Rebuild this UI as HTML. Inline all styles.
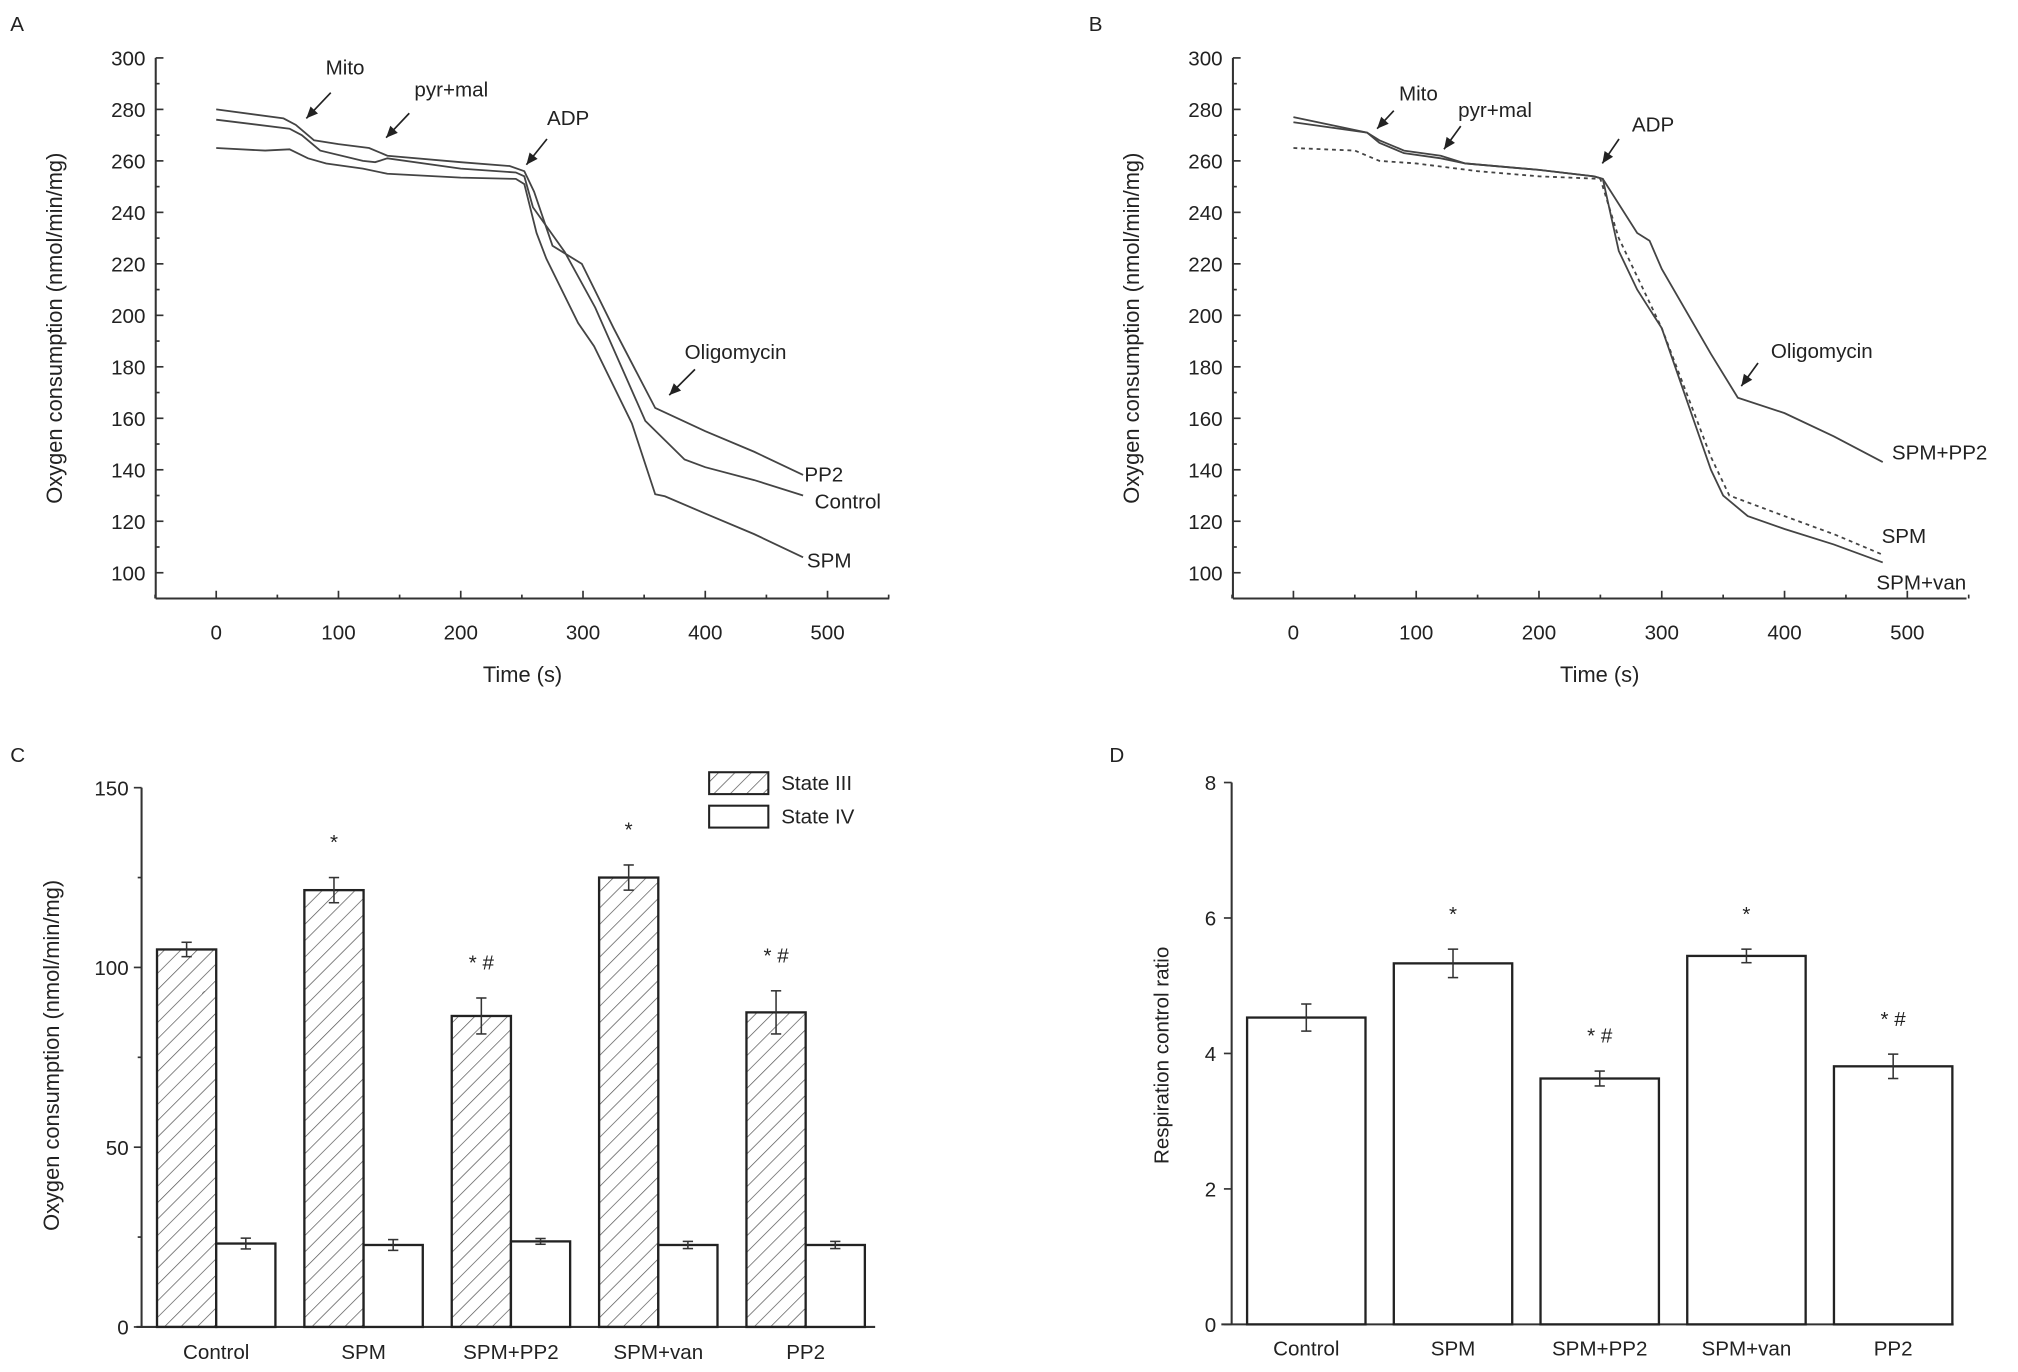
<!DOCTYPE html>
<html><head><meta charset="utf-8"><style>
html,body{margin:0;padding:0;background:#fff;}
svg{display:block;font-family:"Liberation Sans",Arial,sans-serif;}
</style></head><body>
<svg id="fig" width="2018" height="1372" viewBox="0 0 1568 1066" preserveAspectRatio="none" xmlns="http://www.w3.org/2000/svg">
<defs>
<pattern id="hatch" patternUnits="userSpaceOnUse" width="9" height="9" patternTransform="rotate(-45) translate(0,0)">
<line x1="0" y1="0" x2="0" y2="9" stroke="#555" stroke-width="1.1" transform="rotate(90 4.5 4.5)"/>
</pattern>
</defs>
<g id="root"></g>
</svg>
<script>
// ===== Panel A data =====
const aTimePP2 = [0,55,65,80,100,125,140,200,240,252,260,275,299,325,359,400,440,480];
const aValPP2  = [280,276.5,274,268,266.5,265,262,259.5,258,256,248,227,220,195,164,155,147,138];
const aTimeCtl = [0,60,70,85,120,130,140,200,245,252,259,285,310,351,383,400,440,480];
const aValCtl  = [276,272.5,270,264,260,259.5,261,257,255.5,254,242,224.6,203,159,144,141,136,130];
const aTimeSPM = [0,40,60,75,90,120,140,200,245,252,262,270,296,309,340,359,367,400,440,480];
const aValSPM  = [265,264,264.5,261,259,257,255,253.5,253,251,232,222,197,188,158,130.5,129.7,123,115,106];
// ===== Panel B data =====
const bTimePP2 = [0,60,70,90,120,140,200,245,252,280,290,300,340,362,400,440,480];
const bValPP2  = [277,271,268,264,262,259,256.5,254,253,232,229,218,185,168,162,153,143];
const bTimeSPM = [0,60,70,90,120,140,200,245,252,265,280,300,340,350,370,400,440,480];
const bValSPM  = [275,271,267,263,261,259,256.5,254,253,225,210,195,140,130,122,117,111,104];
const bTimeVan = [0,50,70,100,150,200,250,265,290,300,340,355,400,440,480];
const bValVan  = [265,264,260,259,256,254,253,230,205,195,145,130,122,115,107];
// ===== Panel C data =====
const cCats = ["Control","SPM","SPM+PP2","SPM+van","PP2"];
const cState3 = [105,121.5,86.5,125,87.5];
const cState3Err = [2,3.5,5,3.5,6];
const cState4 = [23.2,22.8,23.8,22.8,22.8];
const cState4Err = [1.5,1.5,0.8,1,1];
const cSig = ["","*","* #","*","* #"];
const cTicks = [0,50,100,150];
// ===== Panel D data =====
const dCats = ["Control","SPM","SPM+PP2","SPM+van","PP2"];
const dVals = [4.53,5.33,3.63,5.44,3.81];
const dErr = [0.2,0.21,0.11,0.1,0.18];
const dSig = ["","*","* #","*","* #"];
const dTicks = [0,2,4,6,8];
const lineTicks = [100,120,140,160,180,200,220,240,260,280,300];
const timeTicks = [0,100,200,300,400,500];

const NS="http://www.w3.org/2000/svg";
const root=document.getElementById('root');
function mk(tag,attrs,parent,text){const e=document.createElementNS(NS,tag);for(const k in attrs)e.setAttribute(k,attrs[k]);if(text!==undefined)e.textContent=text;(parent||root).appendChild(e);return e;}

function label(x,y,t,size,anchor,name){
  const e=mk('text',{x:x,y:y,'font-size':size||16,'text-anchor':anchor||'start',fill:'#222'},root,t);
  
  
  return e;
}

// ---------- Line panels ----------
function linePanel(ax,x0px,x500px,xEnd,series,annots,endLabels,pname){
  const g=mk('g',{});
  
  
  const sx=t=>x0px+(x500px-x0px)*t/500;
  const sy=v=>45+(300-v)*2;
  const yb=465;
  mk('line',{x1:ax,y1:45,x2:ax,y2:yb,stroke:'#333','stroke-width':1.6},g);
  mk('line',{x1:ax,y1:yb,x2:xEnd,y2:yb,stroke:'#333','stroke-width':1.6},g);
  for(let v=90;v<=300;v+=10){
    const major=(v%20===0);
    const t=mk('line',{x1:ax,y1:sy(v),x2:ax+(major?6:3),y2:sy(v),stroke:'#333','stroke-width':1.3},g);
  }
  lineTicks.forEach(v=>{
    const e=mk('text',{x:ax-8,y:sy(v)+6,'font-size':16,'text-anchor':'end',fill:'#222'},g,String(v));
    
    
  });
  for(let t=-50;t<=550;t+=50){
    const major=(t%100===0);
    mk('line',{x1:sx(t),y1:yb,x2:sx(t),y2:yb-(major?6:3),stroke:'#333','stroke-width':1.3},g);
  }
  timeTicks.forEach(t=>{
    const e=mk('text',{x:sx(t),y:497,'font-size':16,'text-anchor':'middle',fill:'#222'},g,String(t));
    
    
  });
  const xt=mk('text',{x:(ax+xEnd)/2,y:530,'font-size':17,'text-anchor':'middle',fill:'#222'},g,'Time (s)');
  
  
  const yt=mk('text',{x:0,y:0,'font-size':17,'text-anchor':'middle',fill:'#222',transform:`translate(${ax-73},255) rotate(-90)`},g,'Oxygen consumption (nmol/min/mg)');
  
  
  series.forEach(s=>{
    const d=s.t.map((t,i)=>(i?'L':'M')+sx(t).toFixed(1)+','+sy(s.v[i]).toFixed(1)).join(' ');
    const p=mk('path',{d:d,fill:'none',stroke:'#444','stroke-width':1.4,'stroke-dasharray':s.dash||'none'},g);
    
    
  });
  annots.forEach(a=>{
    const e=mk('text',{x:a.tx,y:a.ty,'font-size':16,fill:'#222'},g,a.text);
    
    
    mk('line',{x1:a.x1,y1:a.y1,x2:a.x2,y2:a.y2,stroke:'#222','stroke-width':1.3},g);
    const ang=Math.atan2(a.y2-a.y1,a.x2-a.x1);
    const L=9,W=4;
    const bx=a.x2-L*Math.cos(ang),by=a.y2-L*Math.sin(ang);
    mk('polygon',{points:`${a.x2},${a.y2} ${bx-W*Math.sin(ang)},${by+W*Math.cos(ang)} ${bx+W*Math.sin(ang)},${by-W*Math.cos(ang)}`,fill:'#222'},g);
  });
  endLabels.forEach(l=>{
    const e=mk('text',{x:l.x,y:l.y,'font-size':16,fill:'#222'},g,l.text);
    
    
  });
}

linePanel(121,168,643,691,
 [{t:aTimePP2,v:aValPP2,name:'line-pp2'},{t:aTimeCtl,v:aValCtl,name:'line-control'},{t:aTimeSPM,v:aValSPM,name:'line-spm'}],
 [{text:'Mito',tx:253,ty:58,x1:257,y1:72,x2:238,y2:92},
  {text:'pyr+mal',tx:322,ty:75,x1:318,y1:88,x2:300,y2:107},
  {text:'ADP',tx:425,ty:97,x1:425,y1:108,x2:409,y2:128},
  {text:'Oligomycin',tx:532,ty:279,x1:540,y1:287,x2:520,y2:307}],
 [{text:'PP2',x:625,y:374},{text:'Control',x:633,y:395},{text:'SPM',x:627,y:441}],'panel-a');

linePanel(958,1005,1482,1528,
 [{t:bTimePP2,v:bValPP2,name:'line-spm-pp2'},{t:bTimeSPM,v:bValSPM,name:'line-spm'},{t:bTimeVan,v:bValVan,name:'line-spm-van',dash:'3,3'}],
 [{text:'Mito',tx:1087,ty:78,x1:1083,y1:86,x2:1070,y2:100},
  {text:'pyr+mal',tx:1133,ty:91,x1:1135,y1:98,x2:1122,y2:116},
  {text:'ADP',tx:1268,ty:102,x1:1258,y1:108,x2:1245,y2:127},
  {text:'Oligomycin',tx:1376,ty:278,x1:1366,y1:282,x2:1353,y2:300}],
 [{text:'SPM+PP2',x:1470,y:357},{text:'SPM',x:1462,y:422},{text:'SPM+van',x:1458,y:458}],'panel-b');

// ---------- Panel C ----------
(function(){
  const g=mk('g',{});
  
  
  const ax=110, y0=1031, yTop=612, xEnd=680, bw=46, pitch=114.5, start=122;
  const sy=v=>y0-(v/150)*(y0-yTop);
  mk('line',{x1:ax,y1:yTop,x2:ax,y2:y0,stroke:'#333','stroke-width':1.6},g);
  mk('line',{x1:ax-4,y1:y0,x2:xEnd,y2:y0,stroke:'#333','stroke-width':1.6},g);
  for(let v=0;v<=150;v+=25){mk('line',{x1:ax-(v%50===0?6:3),y1:sy(v),x2:ax,y2:sy(v),stroke:'#333','stroke-width':1.3},g);}
  cTicks.forEach(v=>{const e=mk('text',{x:ax-10,y:sy(v)+6,'font-size':16,'text-anchor':'end',fill:'#222'},g,String(v));
    
    });
  const yt=mk('text',{x:0,y:0,'font-size':17,'text-anchor':'middle',fill:'#222',transform:`translate(46,820) rotate(-90)`},g,'Oxygen consumption (nmol/min/mg)');
  
  
  cCats.forEach((c,i)=>{
    const x3=start+i*pitch, x4=x3+bw;
    const r3=mk('rect',{x:x3,y:sy(cState3[i]),width:bw,height:y0-sy(cState3[i]),fill:'url(#hatch)',stroke:'#222','stroke-width':1.8},g);
    
    
    const r4=mk('rect',{x:x4,y:sy(cState4[i]),width:bw,height:y0-sy(cState4[i]),fill:'#fff',stroke:'#222','stroke-width':1.8},g);
    
    
    [[x3+bw/2,cState3[i],cState3Err[i]],[x4+bw/2,cState4[i],cState4Err[i]]].forEach(([cx,v,e])=>{
      mk('line',{x1:cx,y1:sy(v+e),x2:cx,y2:sy(v-e),stroke:'#333','stroke-width':1.2},g);
      mk('line',{x1:cx-4,y1:sy(v+e),x2:cx+4,y2:sy(v+e),stroke:'#333','stroke-width':1.2},g);
      mk('line',{x1:cx-4,y1:sy(v-e),x2:cx+4,y2:sy(v-e),stroke:'#333','stroke-width':1.2},g);
    });
    if(cSig[i]){const s=mk('text',{x:x3+bw/2,y:sy(cState3[i]+cState3Err[i])-22,'font-size':16,'text-anchor':'middle',fill:'#222'},g,cSig[i]);
      
      }
    const t=mk('text',{x:x4,y:1056,'font-size':16,'text-anchor':'middle',fill:'#222'},g,c);
    
    
  });
  const l1=mk('rect',{x:551,y:600,width:46,height:17,fill:'url(#hatch)',stroke:'#222','stroke-width':1.6},g);
  
  
  const l2=mk('rect',{x:551,y:626,width:46,height:17,fill:'#fff',stroke:'#222','stroke-width':1.6},g);
  
  
  const t1=mk('text',{x:607,y:614,'font-size':16,fill:'#222'},g,'State III');
  
  
  const t2=mk('text',{x:607,y:640,'font-size':16,fill:'#222'},g,'State IV');
  
  
})();

// ---------- Panel D ----------
(function(){
  const g=mk('g',{});
  
  
  const ax=957, y0=1029, yTop=608, xEnd=1518, bw=92, pitch=114, start=969;
  const sy=v=>y0-(v/8)*(y0-yTop);
  mk('line',{x1:ax,y1:yTop,x2:ax,y2:y0,stroke:'#333','stroke-width':1.6},g);
  mk('line',{x1:ax-8,y1:y0,x2:xEnd,y2:y0,stroke:'#333','stroke-width':1.6},g);
  dTicks.forEach(v=>{
    mk('line',{x1:ax-6,y1:sy(v),x2:ax,y2:sy(v),stroke:'#333','stroke-width':1.3},g);
    const e=mk('text',{x:ax-12,y:sy(v)+6,'font-size':16,'text-anchor':'end',fill:'#222'},g,String(v));
    
    
  });
  const yt=mk('text',{x:0,y:0,'font-size':16,'text-anchor':'middle',fill:'#222',transform:`translate(908,820) rotate(-90)`},g,'Respiration control ratio');
  
  
  dCats.forEach((c,i)=>{
    const x=start+i*pitch;
    const r=mk('rect',{x:x,y:sy(dVals[i]),width:bw,height:y0-sy(dVals[i]),fill:'#fff',stroke:'#222','stroke-width':1.8},g);
    
    
    const cx=x+bw/2,v=dVals[i],e=dErr[i];
    mk('line',{x1:cx,y1:sy(v+e),x2:cx,y2:sy(v-e),stroke:'#333','stroke-width':1.2},g);
    mk('line',{x1:cx-4,y1:sy(v+e),x2:cx+4,y2:sy(v+e),stroke:'#333','stroke-width':1.2},g);
    mk('line',{x1:cx-4,y1:sy(v-e),x2:cx+4,y2:sy(v-e),stroke:'#333','stroke-width':1.2},g);
    if(dSig[i]){const s=mk('text',{x:cx,y:sy(v+e)-22,'font-size':16,'text-anchor':'middle',fill:'#222'},g,dSig[i]);
      
      }
    const t=mk('text',{x:cx,y:1053,'font-size':16,'text-anchor':'middle',fill:'#222'},g,c);
    
    
  });
})();

label(8,24,'A',16,'start','panel-label-a');
label(846,24,'B',16,'start','panel-label-b');
label(8,592,'C',16,'start','panel-label-c');
label(862,592,'D',16,'start','panel-label-d');
</script>
</body></html>
